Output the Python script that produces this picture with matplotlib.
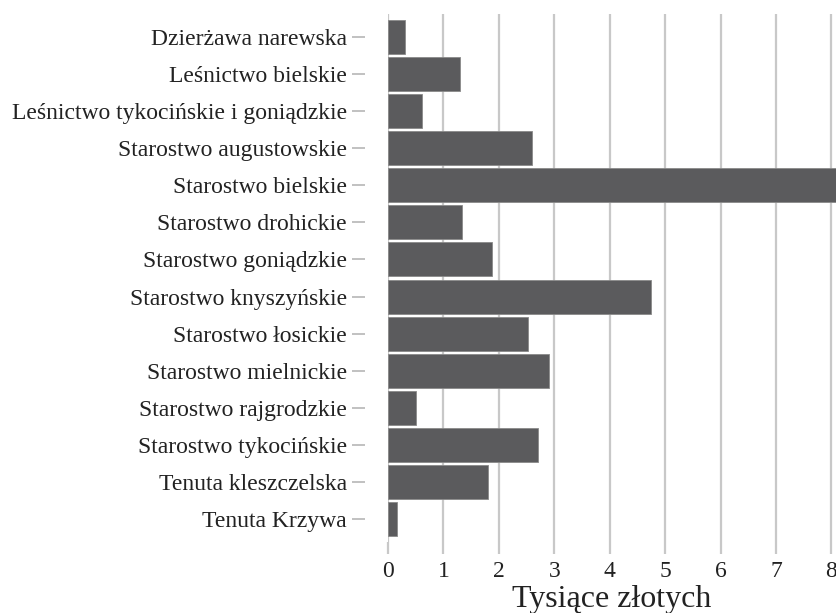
import matplotlib

matplotlib.use("Agg")
import matplotlib.pyplot as plt
import numpy as np

# values (thousands of zloty)
categories = [
    "Dzierżawa narewska",
    "Leśnictwo bielskie",
    "Leśnictwo tykocińskie i goniądzkie",
    "Starostwo augustowskie",
    "Starostwo bielskie",
    "Starostwo drohickie",
    "Starostwo goniądzkie",
    "Starostwo knyszyńskie",
    "Starostwo łosickie",
    "Starostwo mielnickie",
    "Starostwo rajgrodzkie",
    "Starostwo tykocińskie",
    "Tenuta kleszczelska",
    "Tenuta Krzywa",
]
values = [0.31, 1.29, 0.61, 2.60, 8.5, 1.34, 1.88, 4.75, 2.52, 2.91, 0.51, 2.71, 1.81, 0.17]
xticks = [0, 1, 2, 3, 4, 5, 6, 7, 8]
xlabel = "Tysiące złotych"

plt.rcParams["font.family"] = ["Liberation Serif", "DejaVu Serif"]

W, H = 837, 613
fig = plt.figure(figsize=(W / 100, H / 100), dpi=100)
ax = fig.add_axes([388 / W, 1 - 542 / H, (W - 388) / W, (542 - 14) / H])

grid_c = "#c8c8c8"
bar_c = "#5b5b5d"
text_c = "#222222"

# spine offset first: moving it resets the ticks (offset is in points)
for s in ax.spines.values():
    s.set_visible(False)
ax.spines["left"].set_position(("outward", 16.5))

y = np.arange(len(categories))
for xv in xticks:
    ax.axvline(xv, color=grid_c, lw=1.6, zorder=0)
ax.barh(y, values, height=0.917, color=bar_c, edgecolor="#8a8a8a", linewidth=0.6, zorder=2)

ax.set_xlim(0, 8.1)
ax.set_ylim(len(categories) - 1 + 0.62, -0.62)

ax.set_yticks(y)
ax.set_yticklabels(categories)
ax.set_xticks(xticks)
ax.set_xticklabels([str(t) for t in xticks])

ax.tick_params(axis="y", length=9.4, width=1.1, color="#b0b0b0", pad=3.6,
               labelsize=17, labelcolor=text_c)
ax.tick_params(axis="x", length=8.6, width=1.6, color=grid_c, pad=5,
               labelsize=17, labelcolor=text_c)

# axis title placed by hand so its descenders stay inside the canvas
fig.text(612 / W, 1 - 607 / H, xlabel, fontsize=23, color=text_c,
         ha="center", va="baseline")

fig.savefig("out.png", dpi=100)
